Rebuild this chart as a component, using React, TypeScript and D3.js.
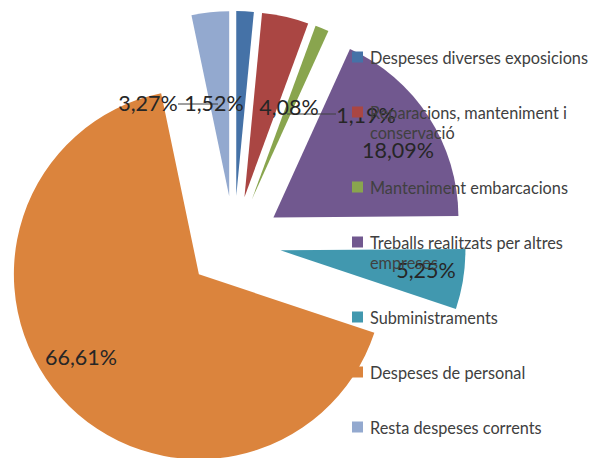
import React from "react";
import * as d3 from "d3";

const categories = [
  "Despeses diverses exposicions",
  "Reparacions, manteniment i conservació",
  "Manteniment embarcacions",
  "Treballs realitzats per altres empreses",
  "Subministraments",
  "Despeses de personal",
  "Resta despeses corrents",
];
const values = [1.52, 4.08, 1.19, 18.09, 5.25, 66.61, 3.27];
const valueLabels = ["1,52%", "4,08%", "1,19%", "18,09%", "5,25%", "66,61%", "3,27%"];
const legendLines = [
  ["Despeses diverses exposicions"],
  ["Reparacions, manteniment i", "conservació"],
  ["Manteniment embarcacions"],
  ["Treballs realitzats per altres", "empreses"],
  ["Subministraments"],
  ["Despeses de personal"],
  ["Resta despeses corrents"],
];
const colors = ["#4572A7", "#AA4643", "#89A54E", "#71588F", "#4198AF", "#DB843D", "#93A9CF"];

// layout
const W = 592;
const H = 458;
const CX = 234;
const CY = 243;
const R = 185;
const EXPLODE = 47;
// label anchor positions (layout)
const labelPos: [number, number][] = [
  [214, 103],
  [289, 107],
  [366, 115],
  [398, 150],
  [426, 270],
  [81, 357],
  [148, 103],
];
// leader lines (layout): [x1, x2, y]
const leaders: [number, number, number][] = [
  [178, 218, 104],
  [287, 336, 114],
];

export default function App() {
  const pie = d3.pie<number>().sort(null).startAngle(0).endAngle(2 * Math.PI)(values);
  const arc = d3.arc<d3.PieArcDatum<number>>().innerRadius(0).outerRadius(R);
  const font = "Lato, Carlito, 'DejaVu Sans', sans-serif";
  let extra = 0;
  const legendY = legendLines.map((lines, i) => {
    const y = 57 + i * 55 + extra;
    extra += (lines.length - 1) * 20;
    return y;
  });
  return (
    <svg
      width={W}
      height={H}
      style={{ position: "fixed", left: 0, top: 0, background: "#fff" }}
      fontFamily={font}
    >
      <g transform={`translate(${CX},${CY})`}>
        {pie.map((d, i) => {
          const mid = (d.startAngle + d.endAngle) / 2;
          const dx = EXPLODE * Math.sin(mid);
          const dy = -EXPLODE * Math.cos(mid);
          return (
            <path
              key={i}
              d={arc(d) || ""}
              fill={colors[i]}
              transform={`translate(${dx},${dy})`}
            />
          );
        })}
      </g>
      {leaders.map(([x1, x2, y], i) => (
        <line key={i} x1={x1} x2={x2} y1={y} y2={y} stroke="#404040" strokeWidth={1} />
      ))}
      {valueLabels.map((t, i) => (
        <text
          key={i}
          x={labelPos[i][0]}
          y={labelPos[i][1]}
          textAnchor="middle"
          dominantBaseline="central"
          fontSize={21.5}
          fill="#262626"
        >
          {t}
        </text>
      ))}
      {legendLines.map((lines, i) => (
        <g key={i}>
          <rect x={352} y={legendY[i] - 5.5} width={11} height={11} fill={colors[i]} />
          {lines.map((l, j) => (
            <text
              key={j}
              x={370}
              y={legendY[i] + j * 20}
              dominantBaseline="central"
              fontSize={16.3}
              fill="#404040"
            >
              {l}
            </text>
          ))}
        </g>
      ))}
    </svg>
  );
}
